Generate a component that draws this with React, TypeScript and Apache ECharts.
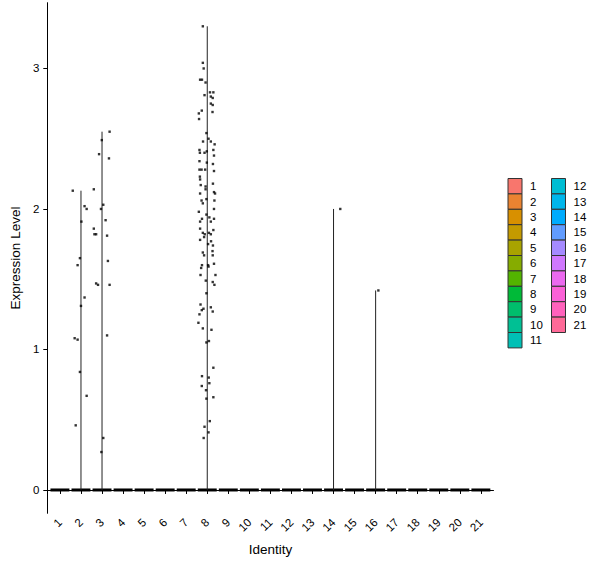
import { useEffect, useRef } from "react";
import * as echarts from "echarts";

// cluster identities on the x axis
const identities = ["1", "2", "3", "4", "5", "6", "7", "8", "9", "10", "11", "12", "13", "14", "15", "16", "17", "18", "19", "20", "21"];

// ggplot hue palette for 21 groups
const identityColors = [
  "#F8766D", "#EA8331", "#D89000", "#C49A00", "#A9A300", "#86AC00", "#53B400",
  "#00BA38", "#00BE6C", "#00C094", "#00C0B5", "#00BDD3", "#00B6EB", "#00ABFD",
  "#619CFF", "#A58AFF", "#D078FE", "#EB69EF", "#FB61D7", "#FF62BC", "#FF6A98",
];

const yTicks = [0, 1, 2, 3];

// [expression, jitter] for cells with non-zero expression
const cluster2Points = [
  [2.13, -0.39], [2.02, 0.17], [2.0, 0.27], [1.91, 0.02], [1.65, -0.05], [1.6, -0.16], [1.37, 0.17],
  [1.31, 0.0], [1.08, -0.3], [1.07, -0.16], [0.84, -0.05], [0.67, 0.27], [0.46, -0.25],
];
const cluster3Points = [
  [2.55, 0.36], [2.49, -0.01], [2.39, -0.14], [2.36, 0.33], [2.14, -0.39], [2.03, 0.06], [2.0, -0.05],
  [1.92, 0.17], [1.86, -0.39], [1.82, -0.36], [1.82, -0.28], [1.81, 0.24], [1.63, 0.28], [1.47, -0.28],
  [1.46, -0.19], [1.46, 0.36], [1.1, 0.24], [0.37, 0.06], [0.27, -0.03],
];
const cluster8Points = [
  [3.3, -0.21], [3.04, -0.21], [3.0, -0.17], [2.92, -0.34], [2.92, -0.25], [2.9, -0.08], [2.83, 0.13],
  [2.83, 0.29], [2.81, -0.13], [2.8, 0.17], [2.79, 0.26], [2.75, 0.17], [2.74, 0.26], [2.7, -0.26],
  [2.69, 0.25], [2.68, -0.4], [2.64, -0.39], [2.54, -0.04], [2.5, 0.06],
  [2.48, -0.2], [2.48, 0.17], [2.46, 0.35], [2.42, -0.37], [2.4, -0.13], [2.41, -0.02], [2.42, 0.29],
  [2.4, -0.35], [2.38, 0.32], [2.34, -0.37], [2.33, -0.02], [2.32, 0.27], [2.28, -0.37], [2.28, -0.27],
  [2.28, -0.1], [2.27, 0.32], [2.23, -0.35], [2.21, -0.34], [2.17, -0.31], [2.16, -0.08], [2.18, 0.27],
  [2.14, -0.08], [2.12, 0.32], [2.11, -0.34], [2.11, 0.37], [2.06, -0.27], [2.04, -0.21], [2.07, -0.04],
  [2.06, 0.34], [2.0, 0.32], [1.98, -0.4], [1.96, -0.04], [1.93, -0.25], [1.94, 0.1], [1.93, 0.32],
  [1.91, -0.34], [1.91, 0.17], [1.86, -0.34], [1.85, 0.29], [1.83, -0.21], [1.82, -0.12], [1.83, 0.08],
  [1.82, 0.17], [1.8, -0.15], [1.78, -0.34], [1.77, 0.18], [1.75, 0.04], [1.74, 0.27], [1.69, -0.21],
  [1.7, 0.25], [1.67, -0.15], [1.67, 0.26],
  [1.6, -0.25], [1.58, -0.29], [1.6, 0.04], [1.61, 0.32], [1.59, 0.06], [1.53, -0.32], [1.53, 0.39],
  [1.49, -0.07], [1.48, 0.26], [1.46, 0.34], [1.4, -0.04], [1.32, -0.32], [1.29, -0.18], [1.28, -0.26],
  [1.3, 0.17], [1.27, 0.26], [1.25, -0.37], [1.19, -0.42], [1.15, -0.21], [1.14, 0.2], [1.05, -0.04],
  [1.06, 0.08], [0.87, 0.29], [0.81, -0.25], [0.8, 0.07],
  [0.76, 0.1], [0.74, -0.26], [0.71, -0.06], [0.65, -0.04], [0.66, 0.29], [0.49, 0.12], [0.45, -0.13],
  [0.41, 0.06], [0.37, -0.17],
];
const cluster14Points = [[2.0, 0.32]];
const cluster16Points = [[1.42, 0.13]];

const expressedByIdentity: Record<string, number[][]> = {
  "2": cluster2Points,
  "3": cluster3Points,
  "8": cluster8Points,
  "14": cluster14Points,
  "16": cluster16Points,
};

const FONT = "Liberation Sans, Arial, sans-serif";

export default function App() {
  const chartRef = useRef<HTMLDivElement>(null);

  useEffect(() => {
    if (!chartRef.current) return;
    const chart = echarts.init(chartRef.current, null, { renderer: "svg" });

    const violinData = identities.map((id, i) => {
      const pts = expressedByIdentity[id] || [];
      const top = pts.length ? Math.max(...pts.map((p) => p[0])) : 0;
      return [i + 1, top];
    });

    const pointData: number[][] = [];
    identities.forEach((id, i) => {
      (expressedByIdentity[id] || []).forEach((p) => pointData.push([i + 1 + p[1], p[0]]));
    });

    // legend keys
    const legendGraphics: any[] = [];
    const rowH = 15.4;
    identities.forEach((id, i) => {
      const col = i < 11 ? 0 : 1;
      const row = i < 11 ? i : i - 11;
      const bx = col === 0 ? 508 : 551.5;
      const by = 178.5 + row * rowH;
      legendGraphics.push({
        type: "rect",
        shape: { x: bx, y: by, width: 14, height: rowH },
        style: { fill: identityColors[i], stroke: "#333", lineWidth: 1 },
      });
      legendGraphics.push({
        type: "text",
        x: bx + 22,
        y: by + rowH / 2,
        style: { text: id, fill: "#000", font: `11.5px ${FONT}`, verticalAlign: "middle", align: "left" },
      });
    });

    chart.setOption({
      animation: false,
      grid: { left: 43, right: 106.5, top: 2.7, bottom: 54.7 },
      xAxis: {
        type: "value",
        min: 0.4,
        max: 21.6,
        name: "Identity",
        nameLocation: "middle",
        nameGap: 29,
        nameTextStyle: { fontFamily: FONT, fontSize: 13.5, color: "#000" },
        axisLine: { lineStyle: { color: "#000", width: 1 } },
        axisTick: { length: 4, lineStyle: { color: "#000" }, customValues: identities.map((_, i) => i + 1) },
        axisLabel: {
          customValues: identities.map((_, i) => i + 1),
          formatter: (v: number) => identities[Math.round(v) - 1] ?? "",
          rotate: 45,
          margin: 7,
          fontFamily: FONT,
          fontSize: 11.5,
          color: "#000",
        },
        splitLine: { show: false },
      },
      yAxis: {
        type: "value",
        min: -0.166,
        max: 3.468,
        name: "Expression Level",
        nameLocation: "middle",
        nameGap: 18,
        nameTextStyle: { fontFamily: FONT, fontSize: 13.5, color: "#000" },
        axisLine: { show: true, lineStyle: { color: "#000", width: 1 } },
        axisTick: { show: true, length: 4, lineStyle: { color: "#000" }, customValues: yTicks },
        axisLabel: { customValues: yTicks, margin: 8, fontFamily: FONT, fontSize: 11.5, color: "#000" },
        splitLine: { show: false },
      },
      graphic: legendGraphics,
      series: [
        {
          type: "custom",
          data: violinData,
          z: 2,
          renderItem: (_params: any, api: any) => {
            const k = api.value(0);
            const top = api.value(1);
            const l = api.coord([k - 0.45, 0]);
            const r = api.coord([k + 0.45, 0]);
            const children: any[] = [
              {
                type: "line",
                shape: { x1: l[0], y1: l[1], x2: r[0], y2: r[1] },
                style: { stroke: "#000", lineWidth: 3 },
              },
            ];
            if (top > 0) {
              const b = api.coord([k, 0]);
              const t = api.coord([k, top]);
              children.push({
                type: "line",
                shape: { x1: b[0], y1: b[1], x2: t[0], y2: t[1] },
                style: { stroke: "#222", lineWidth: 1 },
              });
            }
            return { type: "group", children };
          },
        },
        {
          type: "scatter",
          data: pointData,
          symbol: "rect",
          symbolSize: 2.4,
          itemStyle: { color: "#000" },
          z: 3,
        },
      ],
    });

    return () => chart.dispose();
  }, []);

  return (
    <div
      ref={chartRef}
      style={{ position: "absolute", left: 0, top: 0, width: 600, height: 568, background: "#fff" }}
    />
  );
}
